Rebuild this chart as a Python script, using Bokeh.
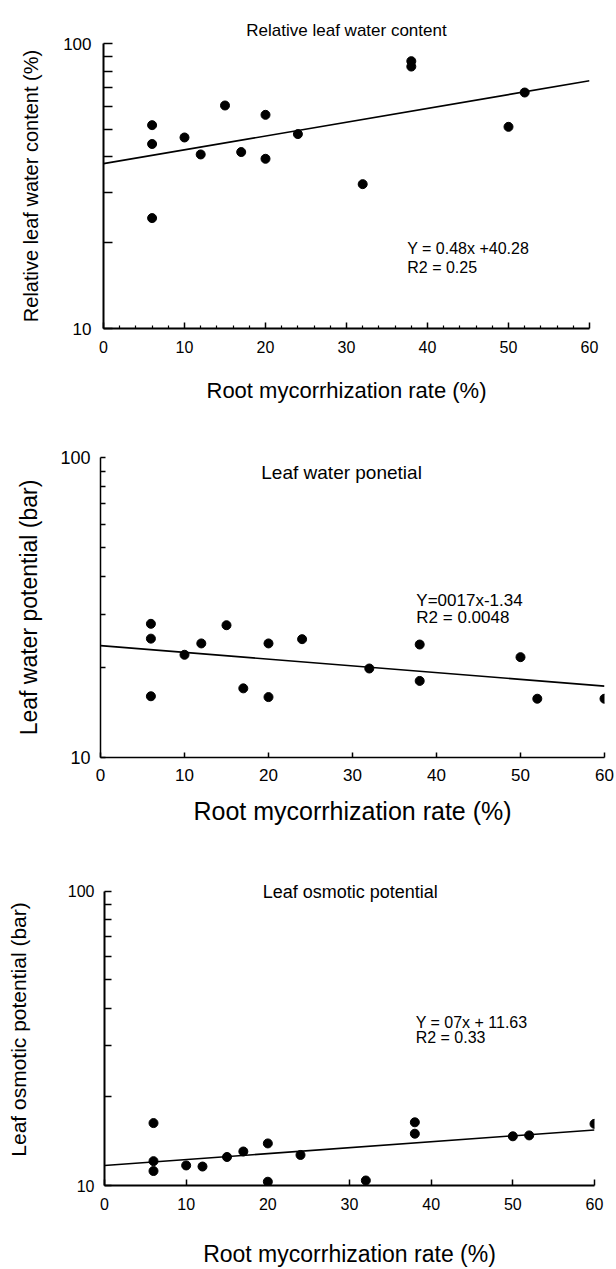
from bokeh.plotting import figure
from bokeh.models import FixedTicker, PrintfTickFormatter, Label, Title
from bokeh.embed import file_html
from bokeh.resources import INLINE

FONT = "Liberation Sans"

# ---- Data ----
x_rwc = [6, 6, 6, 10, 12, 15, 17, 20, 20, 24, 32, 38, 38, 50, 52]
rwc = [51.7, 44.4, 24.4, 46.8, 40.8, 60.6, 41.6, 56.2, 39.4, 48.1, 32.1, 86.7, 83.0, 51.0, 67.3]
rwc_fit_x = [0, 60]
rwc_fit_y = [37.9, 74.0]

x_lwp = [6, 6, 6, 10, 12, 15, 17, 20, 20, 24, 32, 38, 38, 50, 52, 60]
lwp = [27.9, 24.9, 16.0, 22.0, 24.0, 27.6, 17.0, 24.0, 15.9, 24.8, 19.8, 23.8, 18.0, 21.6, 15.7, 15.7]
lwp_fit_x = [0, 60]
lwp_fit_y = [23.6, 17.3]

x_lop = [6, 6, 6, 10, 12, 15, 17, 20, 20, 24, 32, 38, 38, 50, 52, 60]
lop = [16.3, 12.1, 11.2, 11.7, 11.6, 12.5, 13.05, 13.9, 10.3, 12.7, 10.4, 16.4, 15.0, 14.7, 14.8, 16.2]
lop_fit_x = [0, 60]
lop_fit_y = [11.7, 15.45]

x_ticks = [0, 10, 20, 30, 40, 50, 60]
x_minor = [2, 4, 6, 8, 12, 14, 16, 18, 22, 24, 26, 28, 32, 34, 36, 38, 42, 44, 46, 48, 52, 54, 56, 58]
y_ticks = [10, 100]
y_minor = [20, 30, 40, 50, 60, 70, 80, 90]

xlabel = "Root mycorrhization rate (%)"


def make_panel(xs, ys, fx, fy, height, borders, ylabel, cfg, ytop=100):
    bl, br, bt, bb = borders
    p = figure(width=616, height=height, y_axis_type="log",
               x_range=(0, 60), y_range=(10, ytop),
               output_backend="svg", toolbar_location=None,
               min_border_left=bl, min_border_right=br,
               min_border_top=bt, min_border_bottom=bb)
    p.outline_line_color = None
    p.grid.visible = False
    p.background_fill_color = "white"
    p.border_fill_color = "white"

    xa = p.xaxis[0]
    xa.ticker = FixedTicker(ticks=x_ticks, minor_ticks=x_minor if cfg["xminor"] else [])
    xa.axis_label = xlabel
    xa.axis_label_text_font = FONT
    xa.axis_label_text_font_style = "normal"
    xa.axis_label_text_color = "black"
    xa.axis_label_text_font_size = cfg["xlab_fs"]
    xa.axis_label_standoff = cfg["xlab_so"]
    xa.major_label_text_font = FONT
    xa.major_label_text_font_size = cfg["xtick_fs"]
    xa.major_label_text_color = "black"
    xa.major_label_standoff = cfg["xtick_so"]
    xa.axis_line_width = cfg["lw"]
    xa.axis_line_color = "black"
    xa.major_tick_out = 0
    xa.major_tick_in = cfg["xmaj_in"]
    xa.minor_tick_out = 0
    xa.minor_tick_in = 3
    xa.major_tick_line_color = "black"
    xa.minor_tick_line_color = "black"
    xa.major_tick_line_width = 1.5
    xa.minor_tick_line_width = 1.2

    ya = p.yaxis[0]
    ya.ticker = FixedTicker(ticks=y_ticks, minor_ticks=y_minor)
    ya.formatter = PrintfTickFormatter(format="%d")
    ya.bounds = (10, 100)
    ya.axis_label = ylabel
    ya.axis_label_text_font = FONT
    ya.axis_label_text_font_style = "normal"
    ya.axis_label_text_color = "black"
    ya.axis_label_text_font_size = cfg["ylab_fs"]
    ya.axis_label_standoff = cfg["ylab_so"]
    ya.major_label_text_font = FONT
    ya.major_label_text_font_size = cfg["ytick_fs"]
    ya.major_label_text_color = "black"
    ya.major_label_standoff = cfg["ytick_so"]
    ya.axis_line_width = cfg["lw"]
    ya.axis_line_color = "black"
    ya.major_tick_out = 0
    ya.major_tick_in = cfg["ytick_len"]
    ya.minor_tick_out = 0
    ya.minor_tick_in = cfg["ytick_len"]
    ya.major_tick_line_color = "black"
    ya.minor_tick_line_color = "black"
    ya.major_tick_line_width = 1.5
    ya.minor_tick_line_width = 1.5

    p.line(fx, fy, line_color="black", line_width=1.6)
    p.scatter(xs, ys, size=9, color="black")
    return p


def txt(x, y, s, fs, align="left"):
    return Label(x=x, y=y, text=s, text_font=FONT, text_font_size=fs,
                 text_color="black", text_align=align, text_baseline="middle")


# Panel 1
p1 = make_panel(x_rwc, rwc, rwc_fit_x, rwc_fit_y, 420, (103, 27, 43, 92),
                "Relative leaf water content (%)",
                dict(xminor=True, xlab_fs="22px", xlab_so=22, xtick_fs="16px", xtick_so=12,
                     lw=2, xmaj_in=6, ylab_fs="20px", ylab_so=18, ytick_fs="17px",
                     ytick_so=12, ytick_len=9))
p1.add_layout(Title(text="Relative leaf water content", align="center",
                    text_font=FONT, text_font_size="17px", text_font_style="normal",
                    text_color="black", offset=0, standoff=7), "above")
p1.add_layout(txt(37.5, 19.1, "Y = 0.48x +40.28", "16px"))
p1.add_layout(txt(37.5, 16.4, "R2 = 0.25", "16px"))

# Panel 2
p2 = make_panel(x_lwp, lwp, lwp_fit_x, lwp_fit_y, 420, (100, 12, 37, 83),
                "Leaf water potential (bar)",
                dict(xminor=False, xlab_fs="25px", xlab_so=13, xtick_fs="17px", xtick_so=11,
                     lw=1.5, xmaj_in=5, ylab_fs="23px", ylab_so=15, ytick_fs="18px",
                     ytick_so=10, ytick_len=5))
p2.add_layout(txt(28.7, 89, "Leaf water ponetial", "19px", "center"))
p2.add_layout(txt(37.6, 33.4, "Y=0017x-1.34", "17px"))
p2.add_layout(txt(37.6, 29.3, "R2 = 0.0048", "17px"))

# Panel 3 (range extended above 100 so the in-frame title is not clipped)
p3 = make_panel(x_lop, lop, lop_fit_x, lop_fit_y, 429, (104, 22, 33, 83),
                "Leaf osmotic potential (bar)",
                dict(xminor=False, xlab_fs="23px", xlab_so=28, xtick_fs="16px", xtick_so=12,
                     lw=2, xmaj_in=6, ylab_fs="21px", ylab_so=35, ytick_fs="16px",
                     ytick_so=10, ytick_len=7), ytop=115)
p3.add_layout(txt(30.1, 99.5, "Leaf osmotic potential", "18px", "center"))
p3.add_layout(txt(38.1, 35.7, "Y = 07x + 11.63", "16px"))
p3.add_layout(txt(38.1, 31.8, "R2 = 0.33", "16px"))

open("out.html", "w").write(file_html([p1, p2, p3], INLINE))
